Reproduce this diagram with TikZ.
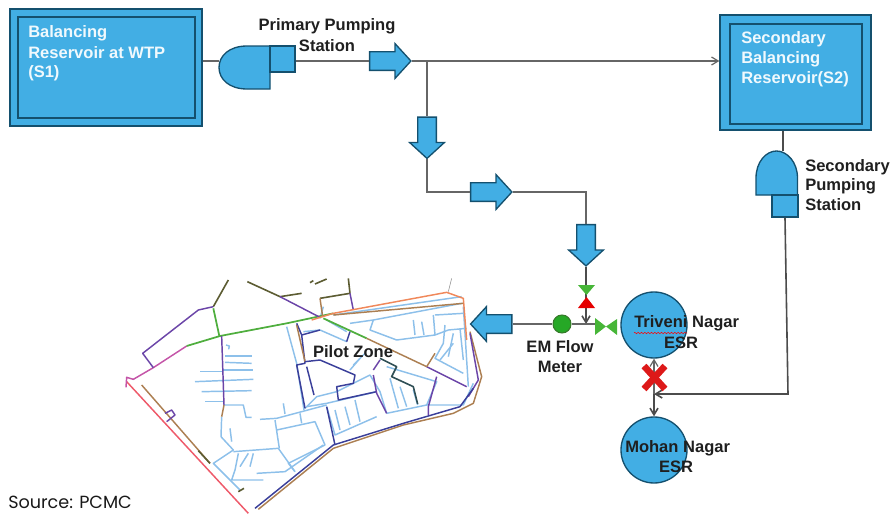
\documentclass[tikz,border=0pt]{standalone}
\usepackage{fontspec}
\setmainfont{Liberation Sans}
\newfontfamily\srcfont{Poppins}
\usetikzlibrary{shapes.arrows,decorations.pathmorphing,arrows.meta}
\definecolor{wblue}{HTML}{42AEE4}
\definecolor{wedge}{HTML}{14506E}
\definecolor{mapblue}{HTML}{8DC0EA}
\definecolor{mappurple}{HTML}{6B45A8}
\definecolor{mapnavy}{HTML}{3A3F9A}
\definecolor{mapbrown}{HTML}{AC7F52}
\definecolor{maporange}{HTML}{F0885A}
\definecolor{mapred}{HTML}{EE5A6A}
\definecolor{mapgreen}{HTML}{4FAE3E}
\definecolor{mapolive}{HTML}{5C5C32}
\definecolor{mapmag}{HTML}{C455A8}
\definecolor{mapteal}{HTML}{2F4F55}
\newcommand\shaftrule{\rule{0pt}{13pt}}
\tikzset{
  tank/.style={draw=wedge,line width=1pt,fill=wblue,inner sep=0pt},
  pumpbody/.style={draw=wedge,line width=1pt,fill=wblue},
  flowarrow/.style={single arrow,draw=wedge,line width=1pt,fill=wblue,inner sep=0pt,
    minimum height=31pt,single arrow head extend=6pt,single arrow tip angle=95},
  esr/.style={circle,draw=wedge,line width=1pt,fill=wblue,inner sep=0pt,minimum size=49.5pt},
  pipe/.style={draw=black!60,line width=.9pt},
  pipedark/.style={draw=black!70,line width=1.2pt},
  opena/.style={-{Straight Barb[length=5pt,width=6pt]}},
  whitelab/.style={text=white!92!wblue,font=\bfseries\fontsize{12.4}{15}\selectfont,align=left,anchor=west,inner sep=0pt},
  blacklab/.style={text=black!88,font=\bfseries\fontsize{12.4}{15}\selectfont,inner sep=0pt},
  blue1/.style={draw=mapblue,line width=1.1pt,line join=round},
  pur1/.style={draw=mappurple,line width=1.1pt,line join=round},
  nav1/.style={draw=mapnavy,line width=1.1pt,line join=round},
  bro1/.style={draw=mapbrown,line width=1.1pt,line join=round},
  ora1/.style={draw=maporange,line width=1.1pt,line join=round},
  red1/.style={draw=mapred,line width=1.1pt,line join=round},
  gre1/.style={draw=mapgreen,line width=1.3pt,line join=round},
  oli1/.style={draw=mapolive,line width=1.2pt,line join=round},
  mag1/.style={draw=mapmag,line width=1.1pt,line join=round},
  tea1/.style={draw=mapteal,line width=1.2pt,line join=round},
  valveg/.style={fill=mapgreen!90!green,draw=none},
}
\begin{document}
\begin{tikzpicture}[x=.75pt,y=-.75pt]
\useasboundingbox (0,0) rectangle (890,514);
% ---------- map ----------
\begin{scope}[shift={(120,260)},x=.25pt,y=-.25pt]
\foreach \p in {
 {(315,288)--(395,288)},{(315,307)--(395,310)},{(310,330)--(400,330)},{(240,335)--(310,335)},
 {(225,365)--(400,358)},{(245,395)--(395,392)},{(255,425)--(310,425)},{(318,255)--(328,258)--(326,268)},
 {(310,435)--(370,435)--(378,472)--(395,472)},{(305,470)--(303,530)--(340,570)--(280,610)--(360,690)},
 {(340,575)--(475,565)--(525,635)},{(330,505)--(335,545)},{(355,580)--(345,630)--(335,660)--(430,660)},
 {(385,580)--(360,620)},{(400,580)--(390,620)},{(420,478)--(470,475)--(620,435)},{(465,480)--(478,565)},
 {(470,510)--(585,485)--(615,555)--(505,610)--(525,635)},{(540,460)--(545,490)},{(490,430)--(495,462)},
 {(410,640)--(495,635)--(610,555)},{(500,200)--(530,310)--(552,450)},{(555,445)--(590,410)--(650,395)},
 {(550,215)--(600,210)--(680,245)},{(620,180)--(680,215)},{(560,440)--(620,430)--(770,395)},
 {(650,395)--(700,370)--(750,345)--(780,395)--(800,460)},{(620,440)--(645,525)--(770,470)},
 {(645,450)--(660,510)},{(675,440)--(690,495)},{(705,420)--(720,485)},{(810,355)--(835,445)},
 {(840,380)--(860,440)},{(880,390)--(893,435)},{(800,320)--(950,365)--(920,435)--(1030,435)--(1060,370)},
 {(800,460)--(920,435)},{(690,190)--(760,180)--(1025,130)},
 {(760,180)--(750,210)--(830,240)--(945,225)--(985,210)--(1040,205)},{(880,180)--(885,225)},{(905,185)--(912,225)},
 {(940,165)--(945,225)},{(945,165)--(1030,160)},{(975,195)--(970,250)--(945,295)--(1030,340)},{(1000,220)--(985,290)},
 {(1020,205)--(1030,300)},{(960,300)--(1000,250)},{(690,330)--(720,295)},{(700,315)--(735,280)},
 {(1030,140)--(1045,380)},{(600,175)--(610,140)},{(640,165)--(1025,110)}}
 {\draw[blue1] \p;}
\draw[red1] (20,365)--(385,760);
\draw[mag1] (200,258)--(100,323)--(40,358)--(20,352)--(18,382);
\draw[gre1] (200,258)--(300,228)--(500,190)--(640,160);
\draw[gre1] (610,175)--(740,235);
\draw[gre1] (280,145)--(298,228);
\draw[oli1] (325,60)--(280,140);
\draw[pur1] (280,140)--(235,150)--(68,280)--(100,323);
\draw[oli1] (382,65)--(480,110)--(545,100);
\draw[pur1] (480,110)--(600,172);
\draw[oli1] (570,68)--(580,62);
\draw[oli1] (585,72)--(620,57);
\draw[oli1] (600,115)--(690,100);
\draw[oli1] (685,55)--(690,100);
\draw[pur1] (690,100)--(700,150);
\draw[bro1] (600,115)--(608,170);
\draw[black!45] (985,95)--(995,55);
\draw[ora1] (575,180)--(640,160)--(980,97)--(1030,115)--(1040,240);
\draw[bro1] (640,165)--(1030,130);
\draw[bro1] (1050,215)--(1085,350)--(1060,430)--(1000,460)--(850,495)--(640,565)--(415,748);
\draw[pur1] (1050,220)--(1075,360)--(1045,410);
\draw[nav1] (1060,385)--(1020,440)--(850,490)--(640,555)--(405,745);
\draw[bro1] (740,235)--(920,320);
\draw[pur1] (920,320)--(1040,380);
\draw[bro1] (920,320)--(945,280);
\draw[pur1] (950,350)--(925,440)--(925,465);
\draw[nav1] (530,190)--(545,225)--(555,310)--(530,315)--(555,445);
\draw[bro1] (530,195)--(555,305);
\draw[nav1] (545,225)--(600,210);
\draw[nav1] (680,245)--(690,215);
\draw[nav1] (555,305)--(600,300)--(705,345)--(700,370)--(650,380)--(655,420)--(770,395);
\draw[nav1] (560,320)--(582,405);
\draw[pur1] (760,330)--(780,300);
\draw[pur1] (760,345)--(770,400)--(800,460);
\draw[nav1] (620,440)--(645,555);
\draw[pur1] (305,228)--(312,435);
\draw[bro1] (312,435)--(305,470);
\draw[tea1] (780,295)--(830,320)--(815,350)--(880,380)--(893,432);
\draw[bro1] (65,375)--(270,610);
\draw[oli1] (235,572)--(270,610);
\draw[pur1] (135,460)--(155,450)--(165,465)--(140,485);
\draw[oli1] (355,695)--(372,685);
\end{scope}
% ---------- tanks and stations ----------
\node[tank,minimum width=144pt,minimum height=87.75pt] (s1) at (106,67.5) {};
\node[draw=wedge,line width=1pt,inner sep=0pt,minimum width=132.75pt,minimum height=75.75pt] (s1i) at (106.5,67.5) {};
\node[tank,minimum width=113.25pt,minimum height=86.25pt] (s2) at (795.5,72.5) {};
\node[draw=wedge,line width=1pt,inner sep=0pt,minimum width=99pt,minimum height=75pt] (s2i) at (796,74) {};
\node[esr] (tri) at (654,325) {};
\node[esr] (moh) at (654,450) {};
\node[circle,draw=mapgreen!70!black,line width=.8pt,fill=green!60!black!85,inner sep=0pt,minimum size=13.5pt] (em) at (562,324) {};
\node[flowarrow] (a1) at (386,61) {\shaftrule};
\node[flowarrow,rotate=-90] (a2) at (427,133.5) {\shaftrule};
\node[flowarrow] (a3) at (487,192) {\shaftrule};
\node[flowarrow,rotate=-90] (a4) at (586,241) {\shaftrule};
\node[flowarrow,rotate=180] (a5) at (495.5,324) {\shaftrule};
% pumps
\draw[pumpbody] (270,46) -- (247,46) .. controls (229,46) and (219,56) .. (219,67.5) .. controls (219,79) and (229,89) .. (247,89) -- (270,89) -- cycle;
\node[tank,minimum width=18.75pt,minimum height=19.5pt] (p1b) at (282.5,59) {};
\coordinate (p1l) at (219,61);
\draw[pumpbody] (756,195) -- (756,178) .. controls (756,162) and (766,151) .. (776.5,151) .. controls (787,151) and (797.5,162) .. (797.5,178) -- (797.5,195) -- cycle;
\node[tank,minimum width=19.5pt,minimum height=16.5pt] (p2b) at (785,206) {};
\coordinate (p2t) at (783,151);
% ---------- pipes ----------
\draw[pipe] (s1.east|-p1l) -- (p1l);
\draw[pipe] (p1b.east|-a1.tail) -- (a1.tail);
\coordinate (j1) at (427,61);
\coordinate (s2w) at (s2.west|-j1);
\draw[pipe,opena] (a1.tip) -- (s2w);
\draw[pipe] (j1) -- (a2.tail);
\coordinate (j2) at (427,192);
\draw[pipe] (a2.tip) -- (j2) -- (a3.tail);
\coordinate (j3) at (586,192);
\draw[pipe] (a3.tip) -- (j3) -- (a4.tail);
\coordinate (j4) at (586,324);
\draw[pipedark,opena] (a4.tip) -- (j4);
\draw[pipe] (a5.tail) -- (em);
\draw[pipe] (em) -- (j4) -- (596,324);
\draw[pipedark] (s2.south-|p2t) -- (p2t);
\coordinate (j5) at (788,394);
\coordinate (j6) at (654,394);
\draw[pipedark,opena] (p2b.south) -- (j5) -- (j6);
\draw[pipedark,opena] (j6) -- (moh.north);
\draw[pipe,opena] (j6) -- (tri.south);
% ---------- valves ----------
\fill[valveg] (578,285) -- (595,285) -- (586.5,295) -- cycle;
\fill[red!90!black] (578,308) -- (595,308) -- (586.5,297) -- cycle;
\fill[valveg] (595,318) -- (595,335) -- (606,326.5) -- cycle;
\fill[valveg] (617,319) -- (617,335) -- (606,326.5) -- cycle;
% red cross
\draw[red!85!black!90,line width=5pt] (644,366) -- (665,389) (665,366) -- (644,389);
% ---------- labels ----------
\node[whitelab] at (28,33) {Balancing};
\node[whitelab] at (28,53) {Reservoir at WTP};
\node[whitelab] at (28,73) {(S1)};
\node[whitelab] at (741,39) {Secondary};
\node[whitelab] at (741,59) {Balancing};
\node[whitelab] at (741,79) {Reservoir(S2)};
\node[blacklab] at (327,26) {Primary Pumping};
\node[blacklab] at (327,46) {Station};
\node[blacklab,anchor=west] at (805,167) {Secondary};
\node[blacklab,anchor=west] at (805,186) {Pumping};
\node[blacklab,anchor=west] at (805,205) {Station};
\node[blacklab] at (353,352) {Pilot Zone};
\node[blacklab] at (560,347) {EM Flow};
\node[blacklab] at (560,367) {Meter};
\node[blacklab,anchor=west] (tl) at (634,323) {Triveni Nagar};
\node[blacklab] at (681,343) {ESR};
\draw[red,line width=.4pt,decorate,decoration={zigzag,amplitude=.5pt,segment length=2.5pt}] (634,333) -- (687,333);
\node[blacklab,anchor=west] at (625,448) {Mohan Nagar};
\node[blacklab] at (676,467) {ESR};
\node[anchor=west,inner sep=0pt,text=black!90,font=\srcfont\fontsize{13.2}{16}\selectfont] at (8,502) {Source: PCMC};
\end{tikzpicture}
\end{document}
